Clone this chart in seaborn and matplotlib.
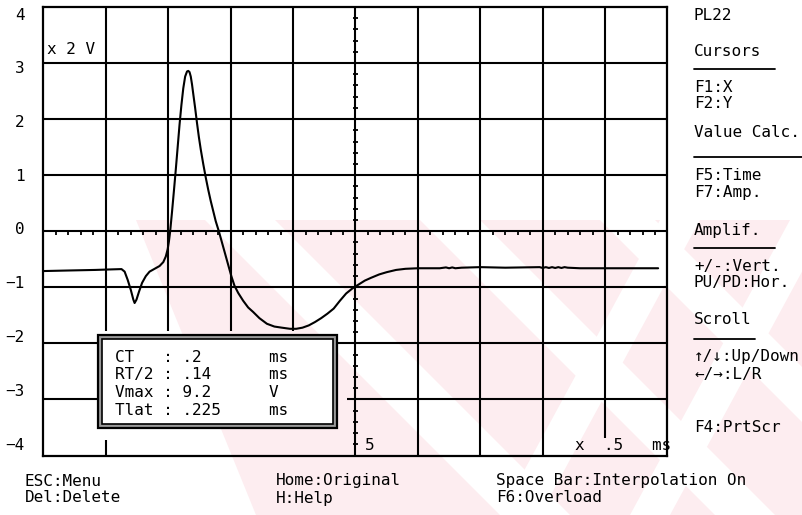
import matplotlib
matplotlib.use("Agg")
import numpy as np
import pandas as pd
import matplotlib.pyplot as plt
import seaborn as sns
from matplotlib.patches import Polygon, Rectangle
from matplotlib.lines import Line2D

# Recorded response, in screen divisions (x: 0.5 ms/div, y: 2 V/div)
time_div = [0.00, 0.40, 0.83, 1.10, 1.25, 1.30, 1.35, 1.40, 1.44, 1.46,
            1.49, 1.53, 1.58, 1.64, 1.70, 1.78, 1.86, 1.92, 1.96, 1.99,
            2.01, 2.03, 2.06, 2.09, 2.12, 2.15, 2.18, 2.21, 2.24, 2.27,
            2.30, 2.32, 2.34, 2.36, 2.38, 2.40, 2.43, 2.46, 2.49, 2.52,
            2.56, 2.60, 2.64, 2.68, 2.72, 2.76, 2.81, 2.86, 2.91, 2.96,
            3.01, 3.06, 3.12, 3.20, 3.28, 3.36, 3.46, 3.58, 3.70, 3.82,
            3.95, 4.05, 4.15, 4.25, 4.35, 4.45, 4.55, 4.65, 4.75, 4.85,
            4.95, 5.05, 5.15, 5.25, 5.38, 5.50, 5.65, 5.80, 6.00, 6.35,
            6.45, 6.50, 6.55, 6.60, 6.70, 7.00, 7.40, 7.95, 8.00, 8.05,
            8.10, 8.15, 8.20, 8.25, 8.30, 8.35, 8.40, 8.60, 9.20, 9.85]
amp_div = [-0.71, -0.70, -0.69, -0.68, -0.675, -0.72, -0.87, -1.05, -1.22, -1.28,
           -1.22, -1.08, -0.92, -0.80, -0.72, -0.67, -0.62, -0.55, -0.45, -0.32,
           -0.18, 0.00, 0.35, 0.72, 1.10, 1.50, 1.90, 2.25, 2.55, 2.76,
           2.85, 2.86, 2.84, 2.76, 2.62, 2.45, 2.20, 1.93, 1.68, 1.46,
           1.20, 0.96, 0.74, 0.54, 0.36, 0.18, 0.00, -0.20, -0.40, -0.60,
           -0.80, -0.97, -1.10, -1.24, -1.36, -1.44, -1.55, -1.65, -1.70, -1.72,
           -1.74, -1.74, -1.72, -1.68, -1.62, -1.55, -1.47, -1.38, -1.24, -1.11,
           -1.02, -0.95, -0.88, -0.83, -0.77, -0.73, -0.69, -0.67, -0.66, -0.66,
           -0.645, -0.66, -0.645, -0.66, -0.65, -0.64, -0.65, -0.64, -0.655, -0.64,
           -0.655, -0.64, -0.655, -0.64, -0.655, -0.64, -0.65, -0.66, -0.66, -0.66]

y_tick_labels = ["4", "3", "2", "1", "0", "\u22121", "\u22122", "\u22123", "\u22124"]

readout_names = ["CT", "RT/2", "Vmax", "Tlat"]
readout_values = [".2", ".14", "9.2", ".225"]
readout_units = ["ms", "ms", "V", "ms"]

side_menu = ["PL22", "Cursors", "F1:X", "F2:Y", "Value Calc.", "F5:Time", "F7:Amp.",
             "Amplif.", "+/-:Vert.", "PU/PD:Hor.", "Scroll",
             "\u2191/\u2193:Up/Down", "\u2190/\u2192:L/R", "F4:PrtScr"]
bottom_keys = [["ESC:Menu", "Del:Delete"], ["Home:Original", "H:Help"],
               ["Space Bar:Interpolation On", "F6:Overload"]]

sns.set_theme(style="white")
plt.rcParams["font.family"] = ["DejaVu Sans Mono", "DejaVu Sans"]

W, H = 803, 515
fig = plt.figure(figsize=(W / 100, H / 100), dpi=100, facecolor="white")


def fx(px):
    return px / W


def fy(py):
    return 1 - py / H


# faint diagonal banding behind the screen
pink = "#fdedf0"
fig.patches.append(Polygon([(fx(136), fy(220)), (fx(803), fy(220)), (fx(803), fy(515)),
                            (fx(256), fy(515))], closed=True, transform=fig.transFigure,
                           facecolor=pink, edgecolor="none", zorder=-5))
for x0, w in [(205, 70), (420, 60), (600, 55)]:
    fig.patches.append(Polygon([(fx(x0), fy(220)), (fx(x0 + w), fy(220)),
                                (fx(x0 + w + 295), fy(515)), (fx(x0 + 295), fy(515))],
                               closed=True, transform=fig.transFigure,
                               facecolor="white", edgecolor="none", zorder=-4))
for x0, w in [(790, 40), (660, 40)]:
    fig.patches.append(Polygon([(fx(x0), fy(220)), (fx(x0 + w), fy(220)),
                                (fx(x0 + w - 160), fy(515)), (fx(x0 - 160), fy(515))],
                               closed=True, transform=fig.transFigure,
                               facecolor="white", edgecolor="none", zorder=-4))

left_px, right_px, top_px, bot_px = 43.5, 667.5, 7.0, 455.5
ax = fig.add_axes([fx(left_px), fy(bot_px), (right_px - left_px) / W, (bot_px - top_px) / H])
ax.set_facecolor("none")
ax.set_xlim(0, 10)
ax.set_ylim(-4, 4)
ax.set_xticks([])
ax.set_yticks([])
for s in ax.spines.values():
    s.set_visible(True)
    s.set_color("black")
    s.set_linewidth(1.6)

gk = dict(color="black", linewidth=1.5, zorder=2)
# horizontal divisions
for yv in [3, 2, 1, 0, -1]:
    ax.hlines(yv, 0, 10, **gk)
ax.hlines(-2, 0, 0.87, **gk)
ax.hlines(-2, 4.69, 10, **gk)
ax.hlines(-3, 0, 0.87, **gk)
ax.hlines(-3, 4.86, 10, **gk)
# vertical divisions
ax.vlines(1, -1.78, 4, **gk)
ax.vlines(1, -4, -3.72, **gk)
for xv in [2, 3, 4]:
    ax.vlines(xv, -1.78, 4, **gk)
for xv in [5, 6, 7, 8]:
    ax.vlines(xv, -4, 4, **gk)
ax.vlines(9, -3.68, 4, **gk)

# sub-division marks on the centre axes
minor = np.round(np.arange(0.2, 10, 0.2), 2)
minor = minor[np.abs(minor - np.round(minor)) > 1e-6]
ax.vlines(minor, -0.07, 0, color="black", linewidth=1.3, zorder=2)
minor_y = np.round(np.arange(-3.8, 4, 0.2), 2)
ax.hlines(minor_y, 4.955, 5.045, color="black", linewidth=1.3, zorder=2)

df = pd.DataFrame({"t": time_div, "v": amp_div})
sns.lineplot(data=df, x="t", y="v", color="black", linewidth=1.5, sort=False,
             estimator=None, ax=ax, zorder=3)
ax.set_xlabel("")
ax.set_ylabel("")

fs = 11.5
tk = dict(fontsize=fs, color="black", va="center")

# measurement readout box
bx0, bx1 = (98 - left_px) / 62.4, (337 - left_px) / 62.4
by0, by1 = (231.5 - 428) / 56, (231.5 - 335) / 56
ax.add_patch(Rectangle((bx0, by0), bx1 - bx0, by1 - by0, facecolor="#9a9a9a",
                       edgecolor="black", linewidth=1.6, zorder=4, clip_on=False))
ix, iy = 4 / 62.4, 4 / 56
ax.add_patch(Rectangle((bx0 + ix, by0 + iy), bx1 - bx0 - 2 * ix, by1 - by0 - 2 * iy,
                       facecolor="white", edgecolor="black", linewidth=1.2, zorder=5,
                       clip_on=False))
for i, (n, v, u) in enumerate(zip(readout_names, readout_values, readout_units)):
    fig.text(fx(115), fy(357 + i * 17.7), f"{n:<4} : {v:<8} {u}", zorder=6, **tk)

# vertical scale labels
for i, lab in enumerate(y_tick_labels):
    fig.text(fx(25), fy(15 + i * 53.75), lab, ha="right", **tk)

fig.text(fx(47), fy(50), "x 2 V", **tk)
fig.text(fx(365), fy(446), "5", **tk)
fig.text(fx(575), fy(446), "x  .5   ms", **tk)

# function key menu
menu_rows = [15, 51, 87, 103, 133, 175, 193, 230, 267, 283, 320, 357, 374, 428]
for lab, yp in zip(side_menu, menu_rows):
    fig.text(fx(694), fy(yp), lab, **tk)
for yp, x1 in [(69, 775), (157, 803), (248, 775), (339, 755)]:
    fig.add_artist(Line2D([fx(694), fx(x1)], [fy(yp), fy(yp)], color="black",
                          linewidth=1.3, transform=fig.transFigure))

for xp, pair in zip([25, 276, 496], bottom_keys):
    fig.text(fx(xp), fy(481), pair[0], **tk)
    fig.text(fx(xp), fy(498), pair[1], **tk)

fig.savefig("out.png", dpi=100, facecolor="white")
